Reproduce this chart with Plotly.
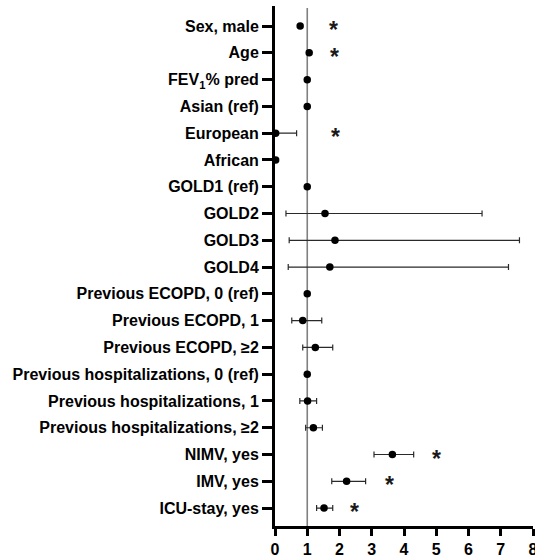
import plotly.graph_objects as go

categories = [
    "Sex, male", "Age", "FEV<sub>1</sub>% pred", "Asian (ref)", "European", "African",
    "GOLD1 (ref)", "GOLD2", "GOLD3", "GOLD4",
    "Previous ECOPD, 0 (ref)", "Previous ECOPD, 1", "Previous ECOPD, ≥2",
    "Previous hospitalizations, 0 (ref)", "Previous hospitalizations, 1",
    "Previous hospitalizations, ≥2", "NIMV, yes", "IMV, yes", "ICU-stay, yes",
]
odds_ratio = [0.78, 1.06, 1.00, 1.00, 0.02, 0.02, 1.00, 1.55, 1.86, 1.70,
              1.00, 0.86, 1.25, 1.00, 1.01, 1.19, 3.64, 2.22, 1.52]
ci_low = [0.73, 1.03, 0.99, 1.00, 0.00, 0.02, 1.00, 0.34, 0.44, 0.41,
          1.00, 0.52, 0.86, 1.00, 0.77, 0.95, 3.07, 1.76, 1.29]
ci_high = [0.83, 1.09, 1.01, 1.00, 0.67, 0.02, 1.00, 6.42, 7.58, 7.24,
           1.00, 1.45, 1.79, 1.00, 1.29, 1.47, 4.30, 2.81, 1.79]

sig_categories = ["Sex, male", "Age", "European", "NIMV, yes", "IMV, yes", "ICU-stay, yes"]
sig_x = [1.81, 1.86, 1.89, 5.0, 3.54, 2.45]

x_ticks = [0, 1, 2, 3, 4, 5, 6, 7, 8]

err_plus = [h - o for h, o in zip(ci_high, odds_ratio)]
err_minus = [o - l for o, l in zip(odds_ratio, ci_low)]

fig = go.Figure()
fig.add_trace(go.Scatter(
    x=odds_ratio, y=categories, mode="markers",
    marker=dict(color="black", size=7.5),
    error_x=dict(type="data", symmetric=False, array=err_plus, arrayminus=err_minus,
                 color="#2a2a2a", thickness=1.2, width=3),
    showlegend=False, cliponaxis=False, hoverinfo="skip",
))

for sx, sc in zip(sig_x, sig_categories):
    fig.add_annotation(x=sx, y=sc, text="*", showarrow=False, yshift=-4,
                       font=dict(family="Liberation Sans, Arial", size=23,
                                 color="#1a1a1a", weight="bold"))

fig.add_shape(type="line", x0=1, x1=1, y0=0, y1=0.996, xref="x", yref="paper",
              line=dict(color="#808080", width=1.6), layer="below")

fig.update_layout(
    width=535, height=558,
    margin=dict(l=275, r=2, t=6, b=32, autoexpand=False),
    paper_bgcolor="white", plot_bgcolor="white",
    font=dict(family="Liberation Sans, Arial", color="black"),
)
fig.update_xaxes(
    range=[0, 8], tickvals=x_ticks, ticktext=[str(v) for v in x_ticks],
    showgrid=False, zeroline=False,
    showline=True, linecolor="#000000", linewidth=3, mirror=False,
    ticks="outside", ticklen=7, tickwidth=3, tickcolor="#000000",
    ticklabeloverflow="allow",
    tickfont=dict(size=16, weight="bold", family="Liberation Sans, Arial"),
)
fig.update_yaxes(
    type="category", categoryorder="array", categoryarray=categories,
    range=[18.67, -0.75],
    showgrid=False, zeroline=False,
    showline=True, linecolor="#000000", linewidth=3, mirror=False,
    ticks="outside", ticklen=10, tickwidth=3, tickcolor="#000000",
    ticklabeloverflow="allow",
    tickfont=dict(size=16, weight="bold", family="Liberation Sans, Arial"),
)

fig.write_html(
    "out.html",
    config={"displayModeBar": False},
    post_script="document.body.style.margin='0';document.body.style.padding='0';",
)
